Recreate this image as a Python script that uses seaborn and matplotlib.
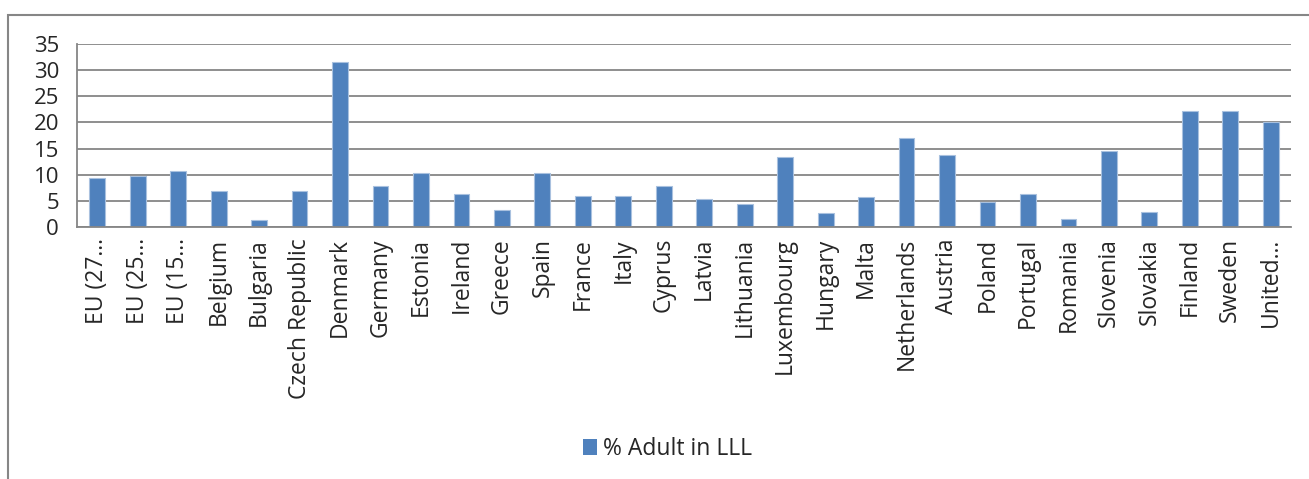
import matplotlib
matplotlib.use('Agg')
import matplotlib.pyplot as plt
import numpy as np
import pandas as pd
import seaborn as sns
from matplotlib.patches import Rectangle, Patch

# 国家 / 数值
countries = ['EU (27…', 'EU (25…', 'EU (15…', 'Belgium', 'Bulgaria', 'Czech Republic',
             'Denmark', 'Germany', 'Estonia', 'Ireland', 'Greece', 'Spain', 'France',
             'Italy', 'Cyprus', 'Latvia', 'Lithuania', 'Luxembourg', 'Hungary', 'Malta',
             'Netherlands', 'Austria', 'Poland', 'Portugal', 'Romania', 'Slovenia',
             'Slovakia', 'Finland', 'Sweden', 'United…']
values = [9.3, 9.8, 10.7, 6.8, 1.3, 6.8, 31.6, 7.8, 10.4, 6.3, 3.2, 10.3, 5.9,
          5.9, 7.8, 5.3, 4.4, 13.4, 2.6, 5.8, 17.0, 13.8, 4.7, 6.4, 1.5, 14.5,
          2.8, 22.1, 22.1, 20.0]
series_name = '% Adult in LLL'
yticks = [0, 5, 10, 15, 20, 25, 30, 35]

df = pd.DataFrame({'country': countries, 'value': values})

sns.set_style('white')
plt.rcParams['font.family'] = ['Open Sans', 'DejaVu Sans']
grey = '#868686'
blue = '#4F81BD'

fig = plt.figure(figsize=(13.09, 4.79), dpi=100)
ax = fig.add_axes([77 / 1309, 1 - 227 / 479, (1291 - 77) / 1309, (227 - 44) / 479])

sns.barplot(data=df, x='country', y='value', color=blue, width=0.39,
            edgecolor='#A9C1DF', linewidth=0.8, saturation=1, ax=ax)

ax.set_xlim(-0.5, len(countries) - 0.5)
ax.set_ylim(0, 35)
ax.set_yticks(yticks)
ax.yaxis.grid(True, color=grey, linewidth=1.3)
ax.set_axisbelow(True)
ax.set_xlabel('')
ax.set_ylabel('')

for s in ['top', 'right']:
    ax.spines[s].set_visible(False)
for s in ['left', 'bottom']:
    ax.spines[s].set_color(grey)
    ax.spines[s].set_linewidth(1.3)

ax.tick_params(axis='y', length=6, width=1.3, color=grey, labelsize=16, pad=7)
ax.set_xticks(np.arange(len(countries)))
ax.set_xticklabels(countries, rotation=90, fontsize=16.5)
ax.tick_params(axis='x', which='major', length=0, pad=8)
ax.set_xticks(np.arange(len(countries) + 1) - 0.5, minor=True)
ax.tick_params(axis='x', which='minor', length=6, width=1.3, color=grey)

# 图例
handle = Patch(facecolor=blue, edgecolor='none')
fig.legend([handle], [series_name], loc='center', bbox_to_anchor=(0.51, 1 - 449 / 479),
           frameon=False, fontsize=16.5, handlelength=0.6, handleheight=0.75,
           handletextpad=0.3)

# 外框
fig.patches.append(Rectangle((8 / 1309, -0.1), 1.2, 1 - 15 / 479 + 0.1,
                             transform=fig.transFigure, fill=False,
                             edgecolor=grey, linewidth=1.5))

fig.savefig('out.png', dpi=100)
